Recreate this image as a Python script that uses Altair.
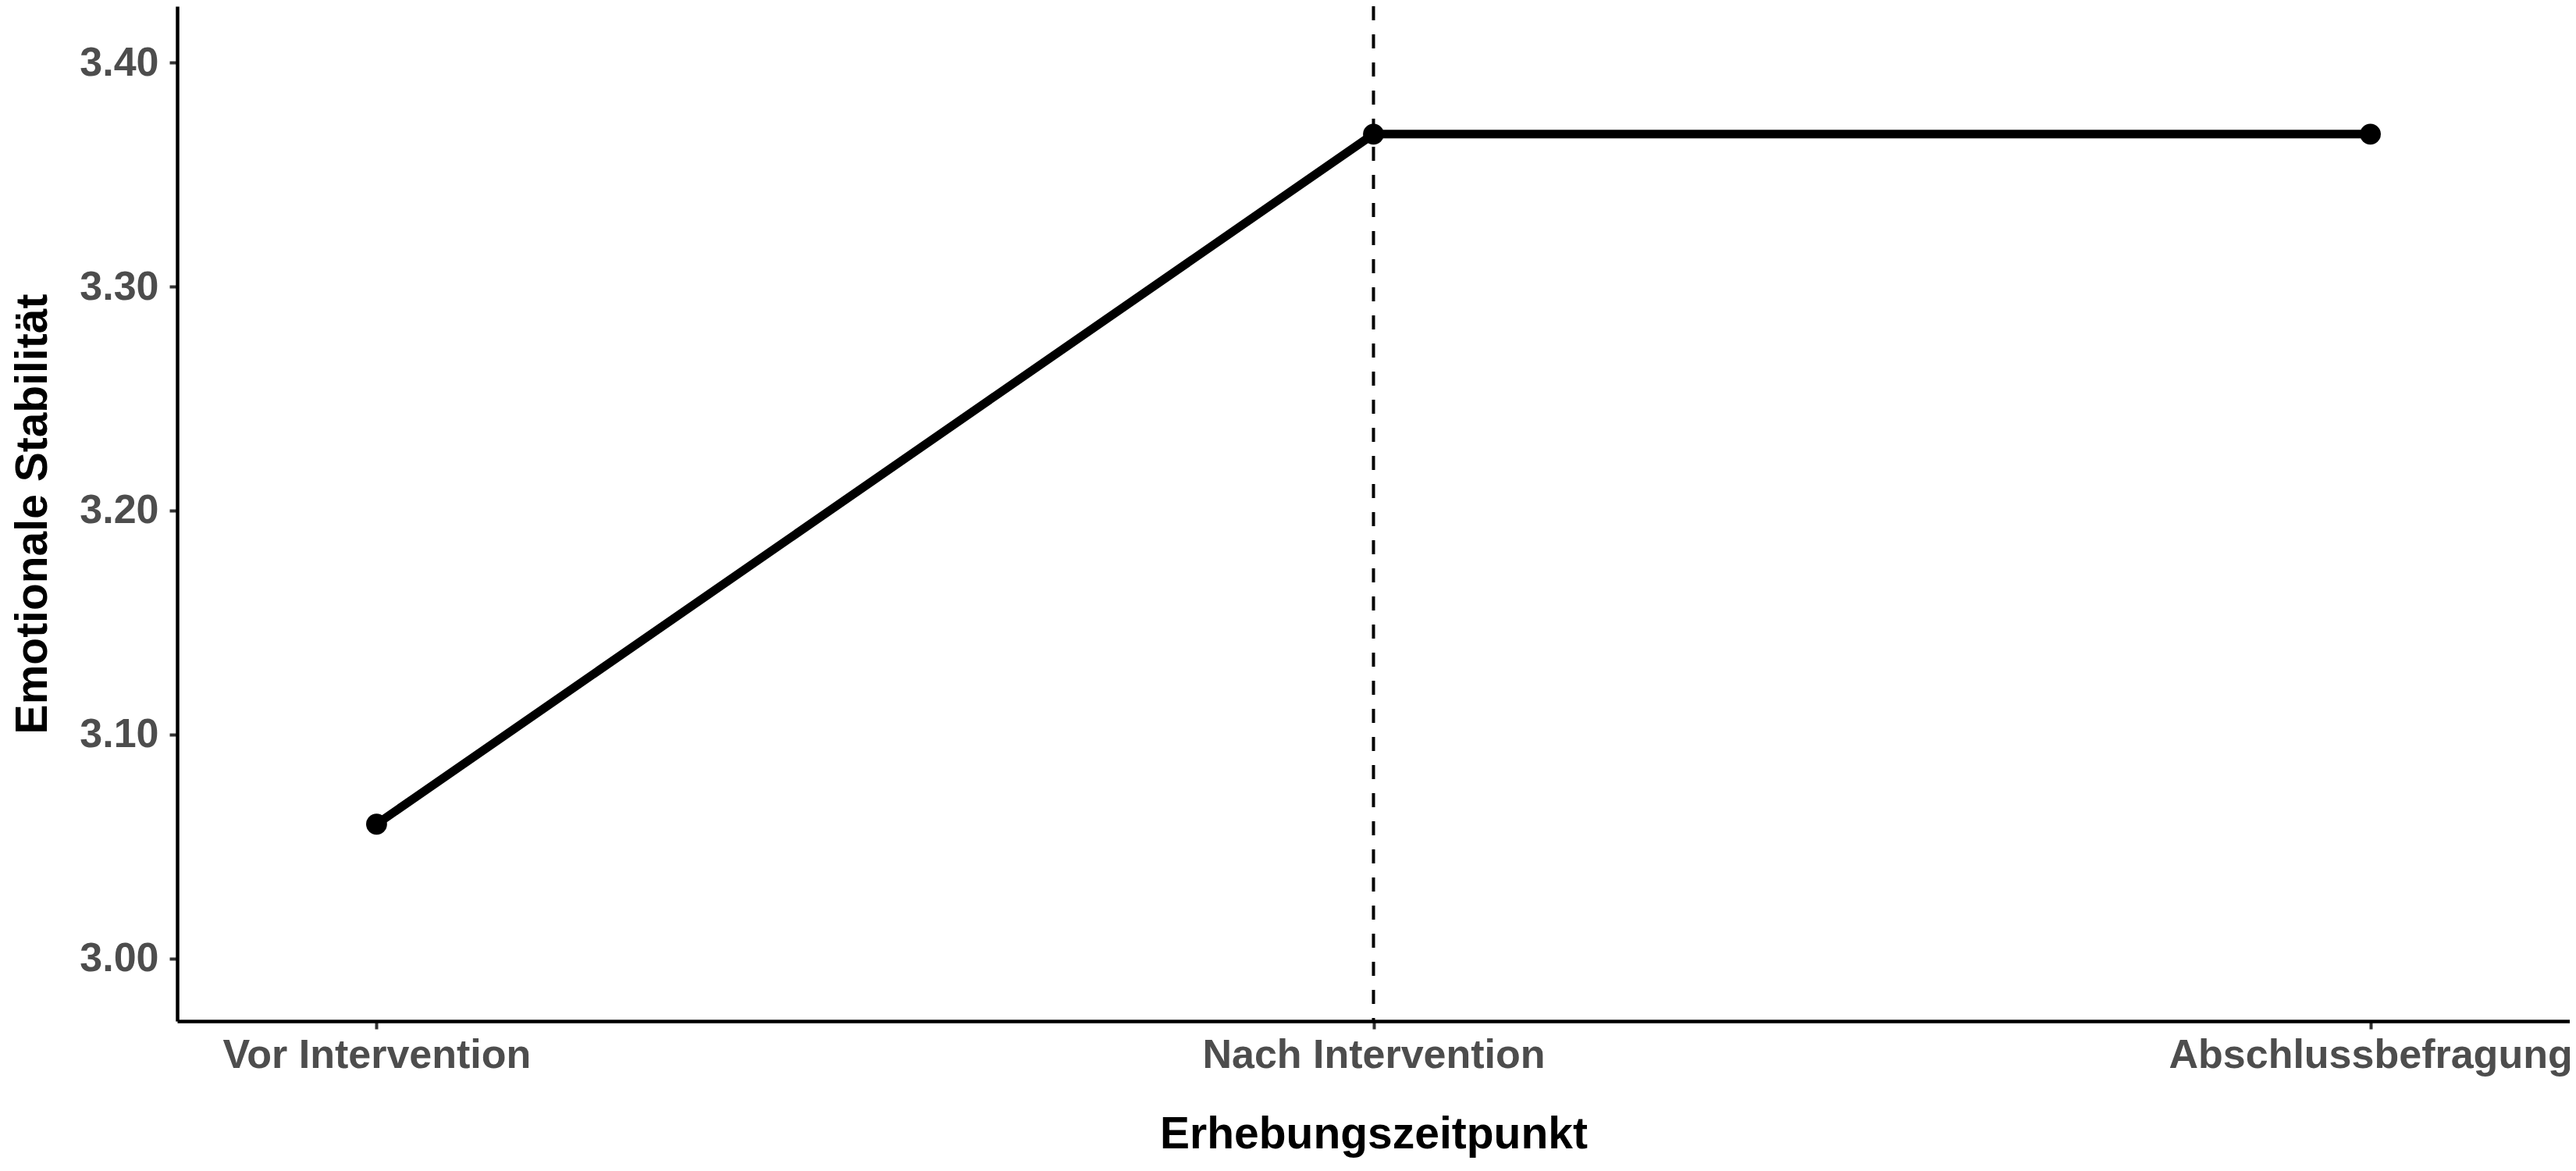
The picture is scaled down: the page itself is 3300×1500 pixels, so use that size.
import pandas as pd
import altair as alt

# data
zeitpunkte = ['Vor Intervention', 'Nach Intervention', 'Abschlussbefragung']
stabilitaet = [3.06, 3.368, 3.368]
y_ticks = [3.0, 3.1, 3.2, 3.3, 3.4]
intervention_marker = ['Nach Intervention']

df = pd.DataFrame({'Zeitpunkt': zeitpunkte, 'Wert': stabilitaet})
df_rule = pd.DataFrame({'Zeitpunkt': intervention_marker})

FONT = 'Liberation Sans'
PLOT_W = 3065
PLOT_H = 1300

x_enc = alt.X(
    'Zeitpunkt:N', sort=zeitpunkte, title='Erhebungszeitpunkt',
    scale=alt.Scale(type='point', padding=0.2),
    axis=alt.Axis(labelAngle=0, labelAlign='center', labelBaseline='top',
                  labelLimit=1000, labelPadding=8, titlePadding=48)
)
y_enc = alt.Y(
    'Wert:Q', title='Emotionale Stabilität',
    scale=alt.Scale(domain=[2.9721, 3.4251], nice=False, zero=False),
    axis=alt.Axis(values=y_ticks, format='.2f', labelPadding=14, titlePadding=30)
)

base = alt.Chart(df).encode(x=x_enc, y=y_enc)

line = base.mark_line(color='black', strokeWidth=11)
points = base.mark_circle(color='black', size=720, opacity=1)

rule = alt.Chart(df_rule).mark_rule(
    color='black', strokeWidth=4, strokeDash=[18, 18]
).encode(x=alt.X('Zeitpunkt:N', sort=zeitpunkte))

chart = (rule + line + points).properties(
    width=PLOT_W,
    height=PLOT_H,
    padding={'left': 219, 'top': 0, 'right': 0, 'bottom': 184},
    autosize=alt.AutoSizeParams(type='none'),
    background='white'
).configure_view(
    stroke=None
).configure_axis(
    grid=False,
    domainColor='black',
    domainWidth=4.5,
    tickColor='#333333',
    tickWidth=4,
    tickSize=10,
    labelFont=FONT,
    labelFontSize=52,
    labelFontWeight='bold',
    labelColor='#4D4D4D',
    titleFont=FONT,
    titleFontSize=57,
    titleFontWeight='bold',
    titleColor='black'
)

chart.save('out.html', embed_options={'renderer': 'svg', 'actions': False})
